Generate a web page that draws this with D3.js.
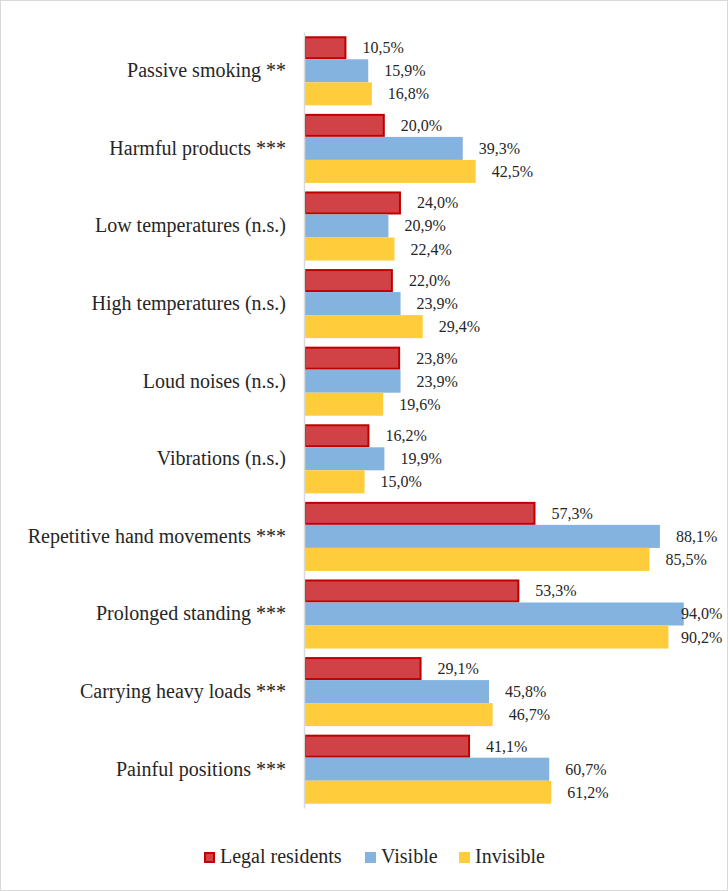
<!DOCTYPE html>
<html>
<head>
<meta charset="utf-8">
<script src="https://cdn.jsdelivr.net/npm/d3@7"></script>
<style>
  body { margin: 0; background: #fff; }
  svg { display: block; }
</style>
</head>
<body>
<div id="chart"></div>
<script>
// categories, top to bottom
var categories = [
  "Passive smoking **",
  "Harmful products ***",
  "Low temperatures (n.s.)",
  "High temperatures (n.s.)",
  "Loud noises (n.s.)",
  "Vibrations (n.s.)",
  "Repetitive hand movements ***",
  "Prolonged standing ***",
  "Carrying heavy loads ***",
  "Painful positions ***"
];
var seriesNames = ["Legal residents", "Visible", "Invisible"];
var legalResidents = [10.5, 20.0, 24.0, 22.0, 23.8, 16.2, 57.3, 53.3, 29.1, 41.1];
var visible        = [15.9, 39.3, 20.9, 23.9, 23.9, 19.9, 88.1, 94.0, 45.8, 60.7];
var invisible      = [16.8, 42.5, 22.4, 29.4, 19.6, 15.0, 85.5, 90.2, 46.7, 61.2];

var W = 728, H = 891;
var FONT = "'Liberation Serif', 'Times New Roman', serif";
var fills = ["#d04245", "#85b3e0", "#ffcd3c"];
var strokes = ["#c00000", "none", "none"];

var svg = d3.select("#chart").append("svg").attr("width", W).attr("height", H);

// outer frame
svg.append("rect")
  .attr("x", 0.5).attr("y", 0.5)
  .attr("width", W - 1).attr("height", H - 1)
  .attr("fill", "#fff").attr("stroke", "#d9d9d9");

var x = d3.scaleLinear().domain([0, 100]).range([304, 708]);
var y = d3.scaleBand().domain(categories).range([32, 808]).paddingInner(0.11).paddingOuter(0.055);
var ySub = d3.scaleBand().domain(seriesNames).range([0, y.bandwidth()]);

var rows = categories.map(function(c, i) {
  return { cat: c, vals: [legalResidents[i], visible[i], invisible[i]] };
});

var groups = svg.selectAll("g.grp").data(rows).enter().append("g")
  .attr("class", "grp")
  .attr("transform", function(d) { return "translate(0," + y(d.cat) + ")"; });

function cells(d) {
  return d.vals.map(function(v, k) { return { v: v, k: k }; });
}

groups.selectAll("rect").data(cells).enter().append("rect")
  .attr("x", x(0) + 1)
  .attr("y", function(d) { return ySub(seriesNames[d.k]) + (d.k === 0 ? 1 : 0); })
  .attr("width", function(d) { return x(d.v) - x(0) - 1 - (d.k === 0 ? 1 : 0); })
  .attr("height", function(d) { return ySub.bandwidth() - (d.k === 0 ? 2 : 0); })
  .attr("fill", function(d) { return fills[d.k]; })
  .attr("stroke", function(d) { return strokes[d.k]; })
  .attr("stroke-width", 2);

// value labels, kept inside the frame like Excel does
groups.selectAll("text.val").data(cells).enter().append("text")
  .attr("class", "val")
  .attr("x", function(d) { return Math.min(x(d.v) + 16, 681); })
  .attr("y", function(d) { return ySub(seriesNames[d.k]) + ySub.bandwidth() / 2 + 5.5; })
  .attr("font-size", 16)
  .style("font-family", FONT)
  .attr("fill", "#262626")
  .text(function(d) { return d.v.toFixed(1).replace(".", ",") + "%"; });

// category axis
var yAxis = d3.axisLeft(y).tickSize(0).tickPadding(18);
var ax = svg.append("g").attr("transform", "translate(" + x(0) + ",0)").call(yAxis);
ax.select(".domain").attr("stroke", "#d9d9d9").attr("stroke-width", 1.5);
ax.selectAll("text")
  .style("font-family", FONT)
  .attr("font-size", 20)
  .attr("fill", "#262626");

// legend
var legendX = [204, 365, 459];
var lg = svg.selectAll("g.lg").data(seriesNames).enter().append("g")
  .attr("class", "lg")
  .attr("transform", function(d, i) { return "translate(" + legendX[i] + ",852)"; });
lg.append("rect")
  .attr("x", function(d, i) { return i === 0 ? 1 : 0; })
  .attr("y", function(d, i) { return i === 0 ? 1 : 0; })
  .attr("width", function(d, i) { return i === 0 ? 9 : 11; })
  .attr("height", function(d, i) { return i === 0 ? 9 : 11; })
  .attr("fill", function(d, i) { return fills[i]; })
  .attr("stroke", function(d, i) { return strokes[i]; })
  .attr("stroke-width", 2);
lg.append("text")
  .attr("x", 16).attr("y", 11)
  .attr("font-size", 20)
  .style("font-family", FONT)
  .attr("fill", "#262626")
  .text(function(d) { return d; });
</script>
</body>
</html>
